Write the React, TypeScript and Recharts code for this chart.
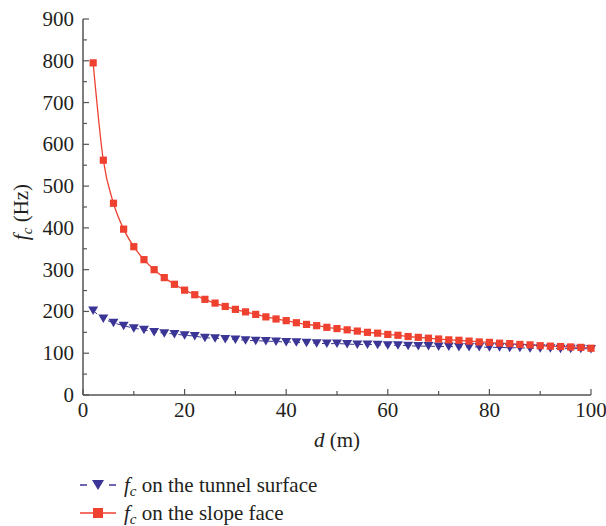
import React from 'react';
import { LineChart, Line, XAxis, YAxis, Legend, Label } from 'recharts';

const distances = [2,4,6,8,10,12,14,16,18,20,22,24,26,28,30,32,34,36,38,40,42,44,46,48,50,52,54,56,58,60,62,64,66,68,70,72,74,76,78,80,82,84,86,88,90,92,94,96,98,100];
const tunnelSurface = [202,183,173,166,160,156,151,148,146,143,141,137,136,134,133,131,130,129,128,127,126,125,124,123,123,122,121,121,120,119,119,118,117,117,116,116,115,115,115,114,114,113,113,112,112,112,111,111,111,110];
const slopeFace = [795,562,459,397,355,324,300,281,265,251,240,229,220,212,205,199,193,187,182,178,173,169,166,162,159,156,153,150,148,145,143,140,138,136,134,132,131,129,127,126,124,123,121,120,118,117,116,115,114,112];
const xTicks = [0,10,20,30,40,50,60,70,80,90,100];
const yTicks = [0,50,100,150,200,250,300,350,400,450,500,550,600,650,700,750,800,850,900];
const seriesNames = ['on the tunnel surface', 'on the slope face'];

const data = distances.map((d, i) => ({ d, tunnel: tunnelSurface[i], slope: slopeFace[i] }));

const BLUE = '#3b3596';
const RED = '#ee4130';
const AXIS = '#555555';
const TEXT = '#231f20';
const FONT = '"Liberation Serif", "Times New Roman", serif';

const XTick = (props: any) => {
  const { x, y, payload } = props;
  const major = payload.value % 20 === 0;
  return (
    <g>
      <line x1={x} y1={y} x2={x} y2={y - (major ? 6 : 4)} stroke={AXIS} strokeWidth={1.2} />
      {major && (
        <text x={x} y={y + 22} textAnchor="middle" fontFamily={FONT} fontSize={21} fill={TEXT}>{payload.value}</text>
      )}
    </g>
  );
};

const YTick = (props: any) => {
  const { x, y, payload } = props;
  const major = payload.value % 100 === 0;
  return (
    <g>
      <line x1={x} y1={y} x2={x + (major ? 6 : 4)} y2={y} stroke={AXIS} strokeWidth={1.2} />
      {major && (
        <text x={x - 9} y={y + 7} textAnchor="end" fontFamily={FONT} fontSize={21} fill={TEXT}>{payload.value}</text>
      )}
    </g>
  );
};

const Triangle = (props: any) => {
  const { cx, cy, index } = props;
  if (cx == null || cy == null) return <g key={index} />;
  return <path key={index} d={`M${cx - 5},${cy - 4} L${cx + 5},${cy - 4} L${cx},${cy + 4.5} Z`} fill={BLUE} />;
};

const Square = (props: any) => {
  const { cx, cy, index } = props;
  if (cx == null || cy == null) return <g key={index} />;
  return <rect key={index} x={cx - 3.6} y={cy - 3.6} width={7.2} height={7.2} fill={RED} />;
};

const Sub = () => (
  <span style={{ fontStyle: 'italic', fontSize: 15, position: 'relative', top: 4 }}>c</span>
);

const LegendContent = () => (
  <div style={{ fontFamily: FONT, fontSize: 21, color: TEXT, lineHeight: 1 }}>
    <div style={{ display: 'flex', alignItems: 'center', height: 28 }}>
      <svg width={40} height={20}>
        <line x1={2} y1={10} x2={9} y2={10} stroke={BLUE} strokeWidth={1.5} />
        <line x1={31} y1={10} x2={38} y2={10} stroke={BLUE} strokeWidth={1.5} />
        <path d="M14,5 L26,5 L20,15 Z" fill={BLUE} />
      </svg>
      <span style={{ marginLeft: 6 }}><i>f</i><Sub /> {seriesNames[0]}</span>
    </div>
    <div style={{ display: 'flex', alignItems: 'center', height: 28 }}>
      <svg width={40} height={20}>
        <line x1={2} y1={10} x2={38} y2={10} stroke={RED} strokeWidth={1.5} />
        <rect x={15} y={5} width={10} height={10} fill={RED} />
      </svg>
      <span style={{ marginLeft: 6 }}><i>f</i><Sub /> {seriesNames[1]}</span>
    </div>
  </div>
);

export default function App() {
  return (
    <div style={{ position: 'absolute', left: 0, top: 0, width: 606, height: 526, background: '#fff' }}>
      <LineChart width={606} height={526} data={data} margin={{ top: 19, right: 15, bottom: 100, left: 0 }}>
        <XAxis
          dataKey="d"
          type="number"
          domain={[0, 100]}
          ticks={xTicks}
          interval={0}
          height={31}
          tickSize={0}
          tickMargin={0}
          tickLine={false}
          tick={<XTick />}
          axisLine={{ stroke: AXIS, strokeWidth: 1.5 }}
        >
          <Label
            content={(p: any) => {
              const vb = p.viewBox || {};
              const cx = (vb.x ?? 83) + (vb.width ?? 508) / 2;
              return (
                <text x={cx} y={447} textAnchor="middle" fontFamily={FONT} fontSize={21} fill={TEXT}>
                  <tspan fontStyle="italic">d</tspan> (m)
                </text>
              );
            }}
          />
        </XAxis>
        <YAxis
          type="number"
          domain={[0, 900]}
          ticks={yTicks}
          interval={0}
          width={83}
          tickSize={0}
          tickMargin={0}
          tickLine={false}
          tick={<YTick />}
          axisLine={{ stroke: AXIS, strokeWidth: 1.5 }}
        >
          <Label
            content={() => (
              <text x={28} y={212} transform="rotate(-90 28 212)" textAnchor="middle" fontFamily={FONT} fontSize={21} fill={TEXT}>
                <tspan fontStyle="italic">f</tspan>
                <tspan fontStyle="italic" fontSize={15} dy={4}>c</tspan>
                <tspan dy={-4}> (Hz)</tspan>
              </text>
            )}
          />
        </YAxis>
        <Line dataKey="tunnel" name={seriesNames[0]} stroke={BLUE} strokeWidth={1} strokeDasharray="5 4" type="monotone" dot={Triangle} isAnimationActive={false} />
        <Line dataKey="slope" name={seriesNames[1]} stroke={RED} strokeWidth={1.3} type="monotone" dot={Square} isAnimationActive={false} />
        <Legend
          content={<LegendContent />}
          wrapperStyle={{ position: 'absolute', left: 78, top: 471, width: 340, height: 0, overflow: 'visible' }}
        />
      </LineChart>
    </div>
  );
}
